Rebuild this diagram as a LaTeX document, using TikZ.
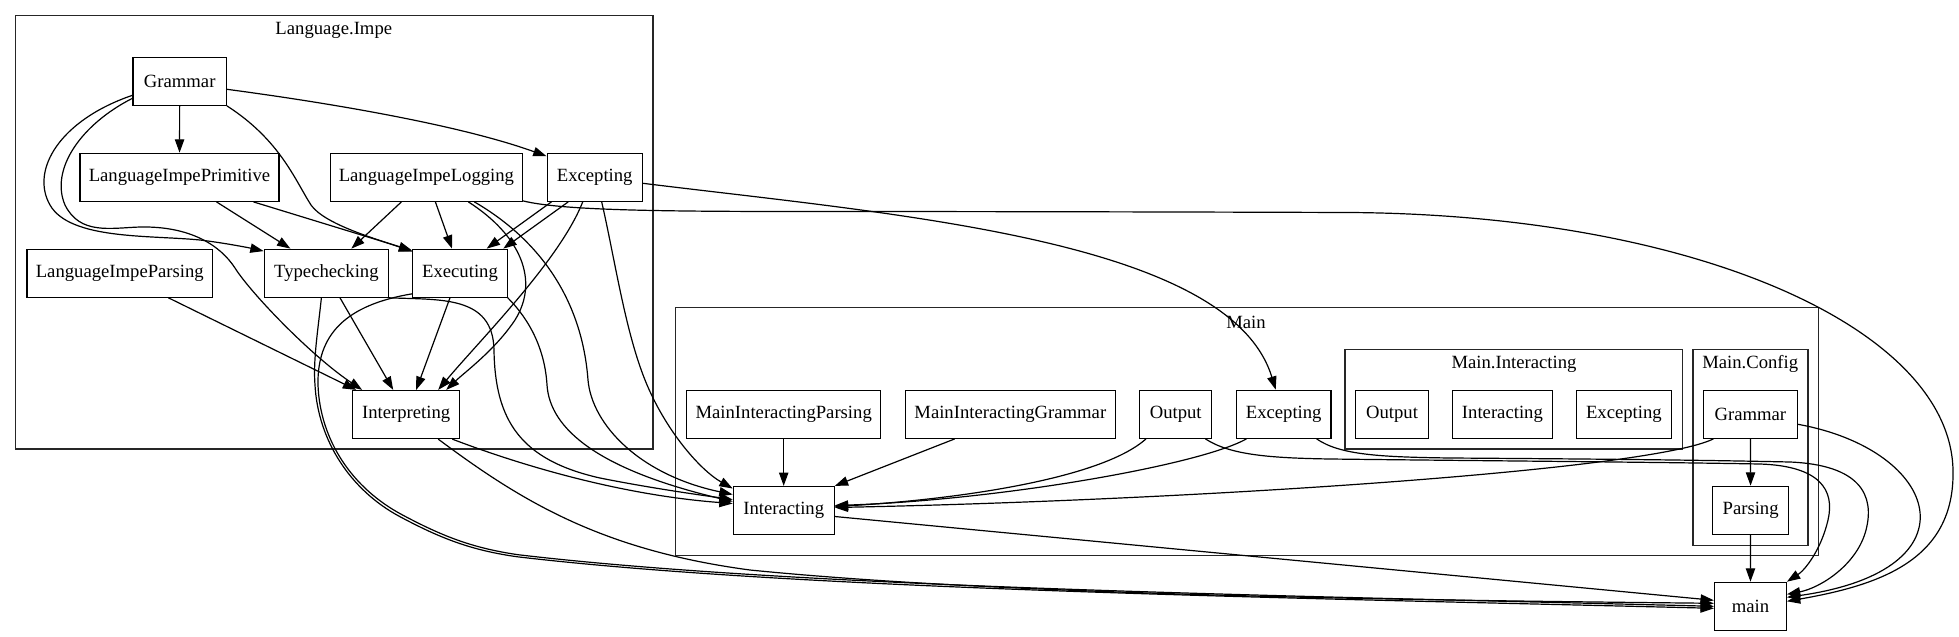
\documentclass[tikz,border=0pt]{standalone}
\usepackage{fontspec}
\setmainfont{Liberation Serif}
\usetikzlibrary{arrows.meta,calc}
\begin{document}
\begin{tikzpicture}[x=0.75pt,y=-0.75pt,
  box/.style={draw, line width=0.9pt, minimum height=36pt, inner sep=0pt, font=\fontsize{14}{16}\selectfont},
  ttl/.style={inner sep=0pt, font=\fontsize{14}{16}\selectfont},
  cluster/.style={draw=black!85, line width=1.1pt},
  edge/.style={draw, line width=0.9pt, -{Triangle[length=10pt,width=7pt]}}
]
\fill[white] (0,0) rectangle (1959,636);
\useasboundingbox (0,0) rectangle (1959,636);

% clusters
\draw[cluster] (15.6,15.7) rectangle (653.2,449);
\node[ttl] (tImpe) at (333.8,30.7) {Language.Impe};
\draw[cluster] (675.7,307.7) rectangle (1818.3,555.7);
\node[ttl] (tMain) at (1246,322.7) {Main};
\draw[cluster] (1345,349.3) rectangle (1682.5,449);
\node[ttl] (tMI) at (1514,364.3) {Main.Interacting};
\draw[cluster] (1693,349.3) rectangle (1807.8,545.3);
\node[ttl] (tMC) at (1750.2,364.3) {Main.Config};

% nodes
\node[box, minimum width=70pt] (G) at (179.7,81.3) {Grammar};
\node[box, minimum width=149.3pt] (LIP) at (179.5,177.3) {LanguageImpePrimitive};
\node[box, minimum width=144pt] (LIL) at (426.4,177.3) {LanguageImpeLogging};
\node[box, minimum width=71.3pt] (EX) at (594.7,177.3) {Excepting};
\node[box, minimum width=139.3pt] (LIPa) at (119.8,273.2) {LanguageImpeParsing};
\node[box, minimum width=93.2pt] (TC) at (326.4,273.2) {Typechecking};
\node[box, minimum width=70.7pt] (EXE) at (460,273.2) {Executing};
\node[box, minimum width=80.2pt] (INT) at (406.2,414.5) {Interpreting};
\node[box, minimum width=145.3pt] (MIP) at (783.7,414.3) {MainInteractingParsing};
\node[box, minimum width=157.7pt] (MIG) at (1010.3,414.3) {MainInteractingGrammar};
\node[box, minimum width=54.2pt] (OUT) at (1175.7,414.3) {Output};
\node[box, minimum width=71pt] (MEX) at (1283.7,414.3) {Excepting};
\node[box, minimum width=75.7pt] (IA) at (783.7,510.5) {Interacting};
\node[box, minimum width=54.2pt] (MIOut) at (1392,414.3) {Output};
\node[box, minimum width=75.3pt] (MIIa) at (1502.4,414.3) {Interacting};
\node[box, minimum width=71.6pt] (MIEx) at (1623.9,414.3) {Excepting};
\node[box, minimum width=70.4pt] (CG) at (1750.4,414.3) {Grammar};
\node[box, minimum width=57.4pt] (CP) at (1750.6,510.3) {Parsing};
\node[box, minimum width=53.9pt] (MAIN) at (1750.4,606.3) {main};

% edges inside Language.Impe
\draw[edge] (G) -- (LIP);
\draw[edge] ($(G.east)+(0,8)$) .. controls (330,103) and (460,125) .. ($(EX.north west)+(0,3.5)$);
\draw[edge] (G.south east) .. controls (280,140) and (295,180) .. (311,205) .. controls (325,225) and (380,240) .. ($(EXE.north west)+(0,3)$);
\draw[edge] ($(G.west)+(0,14)$) .. controls (60,120) and (30,170) .. (50,205) .. controls (70,240) and (150,235) .. (200,240) .. controls (225,243) and (250,248) .. ($(TC.north west)+(0,2.5)$);
\draw[edge] ($(G.west)+(0,17)$) .. controls (80,125) and (50,170) .. (65,205) .. controls (80,235) and (110,228) .. (140,227) .. controls (190,226) and (220,245) .. (235,268) .. controls (250,292) and (310,355) .. ($(INT.north west)+(10,0)$);
\draw[edge] ($(LIP.south)+(37,0)$) -- ($(TC.north)+(-36,0)$);
\draw[edge] ($(LIP.south)+(74,0)$) -- ($(EXE.north west)+(0,2)$);
\draw[edge] ($(LIL.south)+(-25,0)$) -- ($(TC.north)+(25,0)$);
\draw[edge] ($(LIL.south)+(9,0)$) -- ($(EXE.north)+(-8,0)$);
\draw[edge] ($(LIL.south)+(42,0)$) .. controls (520,235) and (540,280) .. (515,320) .. controls (495,350) and (465,372) .. ($(INT.north)+(40,0)$);
\draw[edge] ($(LIL.south)+(48,0)$) .. controls (540,240) and (582,300) .. (588,380) .. controls (592,425) and (640,475) .. ($(IA.west)+(0,-16)$);
\draw[edge] ($(LIL.south east)+(0,-1)$) .. controls (560,210) and (650,211.5) .. (800,211.5) .. controls (1000,211.5) and (1200,212) .. (1350,212.5) .. controls (1700,215) and (1950,330) .. (1953,470) .. controls (1955,560) and (1880,585) .. ($(MAIN.east)+(0,-5)$);
\draw[edge] ($(EX.south)+(-43.3,0)$) -- ($(EXE.north)+(26.7,0)$);
\draw[edge] ($(EX.south)+(-26.5,0)$) -- ($(EXE.north)+(43.3,0)$);
\draw[edge] ($(EX.south)+(-12,0)$) .. controls (560,260) and (480,340) .. ($(INT.north)+(32,0)$);
\draw[edge] ($(EX.south)+(7,0)$) .. controls (615,260) and (625,330) .. (645,380) .. controls (665,430) and (700,470) .. ($(IA.west)+(0,-22)$);
\draw[edge] ($(EX.east)+(0,6)$) .. controls (900,215) and (1230,240) .. ($(MEX.north)+(-8,0)$);
\draw[edge] ($(TC.south)+(13.6,0)$) -- ($(INT.north)+(-13,0)$);
\draw[edge] ($(EXE.south)+(-10,0)$) -- ($(INT.north)+(10,0)$);
\draw[edge] ($(LIPa.south)+(48.6,0)$) -- ($(INT.north west)+(4,0)$);
\draw[edge] (TC.south east) .. controls (440,300) and (493,295) .. (494,350) .. controls (495,420) and (520,460) .. (600,478) .. controls (650,488) and (700,495) .. ($(IA.west)+(0,-11)$);
\draw[edge] ($(TC.south)+(-5,0)$) .. controls (318,330) and (313,360) .. (315,385) .. controls (318,440) and (350,490) .. (400,516.7) .. controls (440,538) and (470,550) .. (516.7,556.7) .. controls (800,590) and (1300,598) .. ($(MAIN.west)+(0,2)$);
\draw[edge] ($(EXE.south west)+(0,-4)$) .. controls (345,305) and (317,335) .. (318,385) .. controls (320,440) and (352,488) .. (402,514.7) .. controls (442,536) and (472,548) .. (518,554.7) .. controls (800,588) and (1300,596) .. (MAIN.west);
\draw[edge] (EXE.south east) .. controls (530,320) and (545,350) .. (547,385) .. controls (550,430) and (600,470) .. ($(IA.west)+(0,-9)$);
\draw[edge] ($(INT.south east)+(-8,0)$) .. controls (520,465) and (620,495) .. ($(IA.west)+(0,-7)$);
\draw[edge] ($(INT.south)+(32,0)$) .. controls (520,500) and (600,550) .. (750,570) .. controls (1000,595) and (1400,600) .. ($(MAIN.west)+(0,-3)$);

% edges in Main
\draw[edge] (MIP) -- (IA);
\draw[edge] ($(MIG.south)+(-55.6,0)$) -- (IA.north east);
\draw[edge] ($(OUT.south west)+(7,0)$) .. controls (1100,480) and (950,500) .. ($(IA.east)+(0,-4)$);
\draw[edge] ($(MEX.south west)+(10.6,0)$) .. controls (1200,465) and (1000,500) .. ($(IA.east)+(0,-5)$);
\draw[edge] ($(CG.south west)+(10.5,0)$) .. controls (1650,470) and (1200,500) .. ($(IA.east)+(0,-3)$);
\draw[edge] (CG) -- (CP);
\draw[edge] (CP) -- (MAIN);
\draw[edge] ($(CG.east)+(0,10)$) .. controls (1940,450) and (1980,570) .. ($(MAIN.east)+(0,-9)$);
\draw[edge] ($(OUT.south east)+(-7,0)$) .. controls (1230,455) and (1270,458) .. (1330,459) .. controls (1500,461) and (1650,462) .. (1760,464) .. controls (1820,466) and (1835,490) .. (1828,520) .. controls (1821,550) and (1805,570) .. (MAIN.north east);
\draw[edge] ($(MEX.south east)+(-15,0)$) .. controls (1340,455) and (1380,457) .. (1450,458) .. controls (1600,459) and (1700,460) .. (1790,462) .. controls (1860,465) and (1875,495) .. (1866,530) .. controls (1857,565) and (1820,588) .. ($(MAIN.east)+(0,-12)$);
\draw[edge] ($(IA.east)+(0,6)$) -- ($(MAIN.west)+(0,-6)$);
\end{tikzpicture}
\end{document}
